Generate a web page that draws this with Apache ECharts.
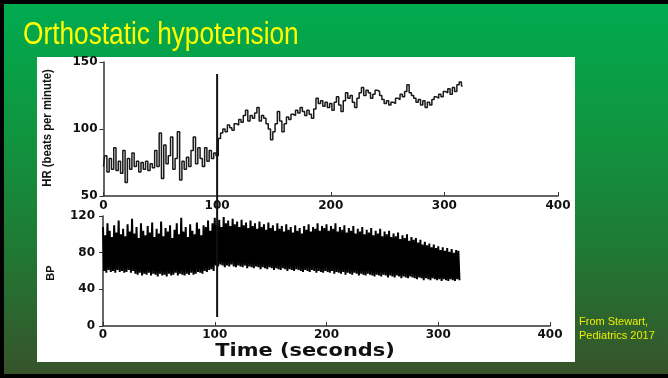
<!DOCTYPE html>
<html>
<head>
<meta charset="utf-8">
<script src="https://cdn.jsdelivr.net/npm/echarts@6.0.0/dist/echarts.min.js"></script>
<style>
  html, body { margin: 0; padding: 0; }
  #chart {
    width: 668px;
    height: 378px;
    background: linear-gradient(to bottom, #00ab50 0%, #10953f 35%, #1f7a34 65%, #38522a 100%);
    box-shadow: inset 4px 4px 0 #000, inset 0 -4px 0 #000;
  }
</style>
</head>
<body>
<div id="chart"></div>
<script>
// HR trace, one sample every 2 s from t = 0 to 316 s
const HR_STEP = 2
const hrValues = [
  72, 80, 68, 78, 70, 86, 69, 76, 67, 84,
  60, 78, 70, 82, 72, 76, 68, 75, 70, 76,
  69, 74, 71, 84, 72, 97, 63, 88, 74, 80,
  94, 70, 78, 98, 62, 76, 70, 79, 72, 84,
  94, 74, 86, 78, 72, 86, 76, 84, 78, 82,
  80,
  93, 97, 100, 98, 103, 101, 99, 104, 103, 107,
  105, 110, 114, 106, 110, 108, 112, 116, 106, 110,
  108, 104, 100, 92, 98, 104, 113, 106, 98, 104,
  109, 107, 111, 110, 114, 112, 116, 113, 110, 114,
  111, 108, 115, 123, 119, 121, 117, 120, 116, 119,
  114, 120, 124, 118, 113, 121, 127, 123, 125, 120,
  116, 123, 127, 131, 125, 129, 127, 123, 126, 129,
  128, 125, 122, 119, 121, 118, 120, 119, 123, 122,
  126, 124, 128, 133, 127, 125, 123, 120, 122, 118,
  121, 116, 120, 118, 122, 124, 123, 126, 124, 128,
  127, 130, 126, 131, 128, 133, 135, 132
]

// BP beats, one beat every 2 s from t = 0 to 318 s (systolic peak, then diastolic trough 1 s later)
const BP_STEP = 2
const bpSystolic = [
  108, 99, 112, 104, 97, 110, 102, 115, 100, 106,
  98, 111, 103, 117, 101, 108, 96, 112, 104, 99,
  109, 102, 113, 97, 106, 101, 114, 98, 107, 103,
  110, 96, 105, 112, 100, 118, 103, 108, 97, 111,
  104, 100, 113, 106, 99, 110, 108, 115, 104, 112,
  118, 110, 116, 108, 119, 112, 115, 109, 117, 111,
  114, 108, 116, 110, 113, 107, 115, 109, 112, 106,
  114, 108, 111, 105, 113, 107, 110, 104, 112, 106,
  109, 103, 111, 105, 108, 102, 110, 104, 107, 101,
  109, 105, 111, 103, 108, 106, 112, 104, 109, 107,
  111, 104, 109, 106, 112, 103, 108, 105, 110, 102,
  107, 104, 109, 101, 106, 103, 108, 100, 105, 102,
  107, 99, 104, 101, 106, 98, 103, 100, 104, 97,
  101, 98, 102, 95, 99, 96, 100, 93, 97, 94,
  96, 91, 94, 89, 92, 88, 90, 86, 89, 85,
  87, 83, 86, 82, 85, 81, 84, 80, 83, 82
]
const bpDiastolic = [
  60, 58, 61, 59, 60, 58, 61, 59, 60, 58,
  59, 61, 58, 60, 57, 56, 58, 55, 57, 56,
  58, 55, 57, 56, 54, 57, 55, 56, 54, 57,
  55, 56, 58, 55, 57, 56, 55, 57, 56, 58,
  56, 57, 59, 58, 57, 60, 59, 61, 62, 60,
  66, 65, 67, 66, 64, 66, 65, 67, 65, 64,
  66, 65, 64, 66, 63, 65, 64, 63, 65, 64,
  62, 64, 63, 62, 64, 63, 61, 63, 62, 61,
  63, 62, 60, 62, 61, 60, 62, 61, 60, 59,
  61, 60, 59, 61, 60, 58, 60, 59, 58, 60,
  59, 58, 60, 57, 59, 58, 57, 59, 56, 58,
  57, 56, 58, 57, 55, 57, 56, 55, 57, 56,
  55, 54, 56, 55, 54, 56, 55, 53, 55, 54,
  53, 55, 54, 52, 54, 53, 52, 54, 53, 52,
  51, 53, 52, 50, 52, 51, 50, 52, 51, 50,
  51, 49, 51, 50, 49, 51, 50, 49, 51, 50
]

const xTicks = [0, 100, 200, 300, 400]
const hrTicks = [50, 100, 150]
const bpTicks = [0, 40, 80, 120]
const TILT_TIME = 100

const hrData = hrValues.map((v, i) => [i * HR_STEP, v])
const bpData = []
bpSystolic.forEach((s, i) => {
  bpData.push([i * BP_STEP, s])
  bpData.push([i * BP_STEP + 1, bpDiastolic[i]])
})

const AXIS_COLOR = '#333'
const tickFont = { fontFamily: 'DejaVu Sans', fontWeight: 'bold', fontSize: 12, color: '#111' }

function xAxisFor(gridIndex, margin) {
  return {
    type: 'value',
    gridIndex,
    min: xTicks[0],
    max: xTicks[xTicks.length - 1],
    interval: xTicks[1] - xTicks[0],
    axisLine: { lineStyle: { color: AXIS_COLOR, width: 1.5 } },
    axisTick: { inside: true, length: 4, lineStyle: { color: AXIS_COLOR } },
    axisLabel: { margin, showMinLabel: true, showMaxLabel: true, ...tickFont },
    splitLine: { show: false }
  }
}

function yAxisFor(gridIndex, ticks, margin) {
  return {
    type: 'value',
    gridIndex,
    min: ticks[0],
    max: ticks[ticks.length - 1],
    interval: ticks[1] - ticks[0],
    axisLine: { show: true, lineStyle: { color: AXIS_COLOR, width: 1.5 } },
    axisTick: { show: true, length: 4, lineStyle: { color: AXIS_COLOR } },
    axisLabel: { margin, showMinLabel: true, showMaxLabel: true, ...tickFont },
    splitLine: { show: false }
  }
}

const chart = echarts.init(document.getElementById('chart'))

chart.setOption({
  animation: false,
  grid: [
    { left: 103.5, right: 110, top: 62, height: 134 },
    { left: 103, right: 118, top: 216, height: 110 },
    // overlay used only for the tilt marker that runs through both panels
    { left: 103.5, right: 110, top: 74, height: 243 }
  ],
  xAxis: [
    xAxisFor(0, 4),
    xAxisFor(1, 3),
    { type: 'value', gridIndex: 2, min: 0, max: 400, show: false }
  ],
  yAxis: [
    yAxisFor(0, hrTicks, 6),
    yAxisFor(1, bpTicks, 8),
    { type: 'value', gridIndex: 2, min: 0, max: 1, show: false }
  ],
  graphic: [
    {
      type: 'rect', z: -10,
      shape: { x: 37, y: 57, width: 538, height: 305 },
      style: { fill: '#ffffff' }
    },
    {
      type: 'text', x: 23, y: 35, scaleX: 0.82,
      style: {
        text: 'Orthostatic hypotension', fill: '#ffff00',
        fontFamily: 'Liberation Sans', fontSize: 32,
        align: 'left', verticalAlign: 'middle'
      }
    },
    {
      type: 'text', x: 47, y: 128, rotation: Math.PI / 2, scaleX: 0.87,
      style: {
        text: 'HR (beats per minute)', fill: '#111',
        fontFamily: 'Liberation Sans', fontWeight: 'bold', fontSize: 13,
        align: 'center', verticalAlign: 'middle'
      }
    },
    {
      type: 'text', x: 51, y: 273, rotation: Math.PI / 2,
      style: {
        text: 'BP', fill: '#111',
        fontFamily: 'Liberation Sans', fontWeight: 'bold', fontSize: 11,
        align: 'center', verticalAlign: 'middle'
      }
    },
    {
      type: 'text', x: 305, y: 352, scaleX: 1.23,
      style: {
        text: 'Time (seconds)', fill: '#111',
        fontFamily: 'DejaVu Sans', fontWeight: 'bold', fontSize: 17,
        align: 'center', verticalAlign: 'middle'
      }
    },
    {
      type: 'text', x: 579, y: 329,
      style: {
        text: 'From Stewart,\nPediatrics 2017', fill: '#eeee00',
        fontFamily: 'Liberation Sans', fontSize: 11, lineHeight: 14,
        align: 'left', verticalAlign: 'middle'
      }
    }
  ],
  series: [
    {
      name: 'HR',
      type: 'line',
      xAxisIndex: 0,
      yAxisIndex: 0,
      data: hrData,
      step: 'middle',
      showSymbol: false,
      lineStyle: { color: '#1a1a1a', width: 1.5 }
    },
    {
      name: 'BP',
      type: 'line',
      xAxisIndex: 1,
      yAxisIndex: 1,
      data: bpData,
      showSymbol: false,
      lineStyle: { color: '#000', width: 2 }
    },
    {
      name: 'Tilt',
      type: 'line',
      xAxisIndex: 2,
      yAxisIndex: 2,
      data: [[TILT_TIME, 0], [TILT_TIME, 1]],
      showSymbol: false,
      lineStyle: { color: '#111', width: 2 },
      z: 5
    }
  ]
})
</script>
</body>
</html>
